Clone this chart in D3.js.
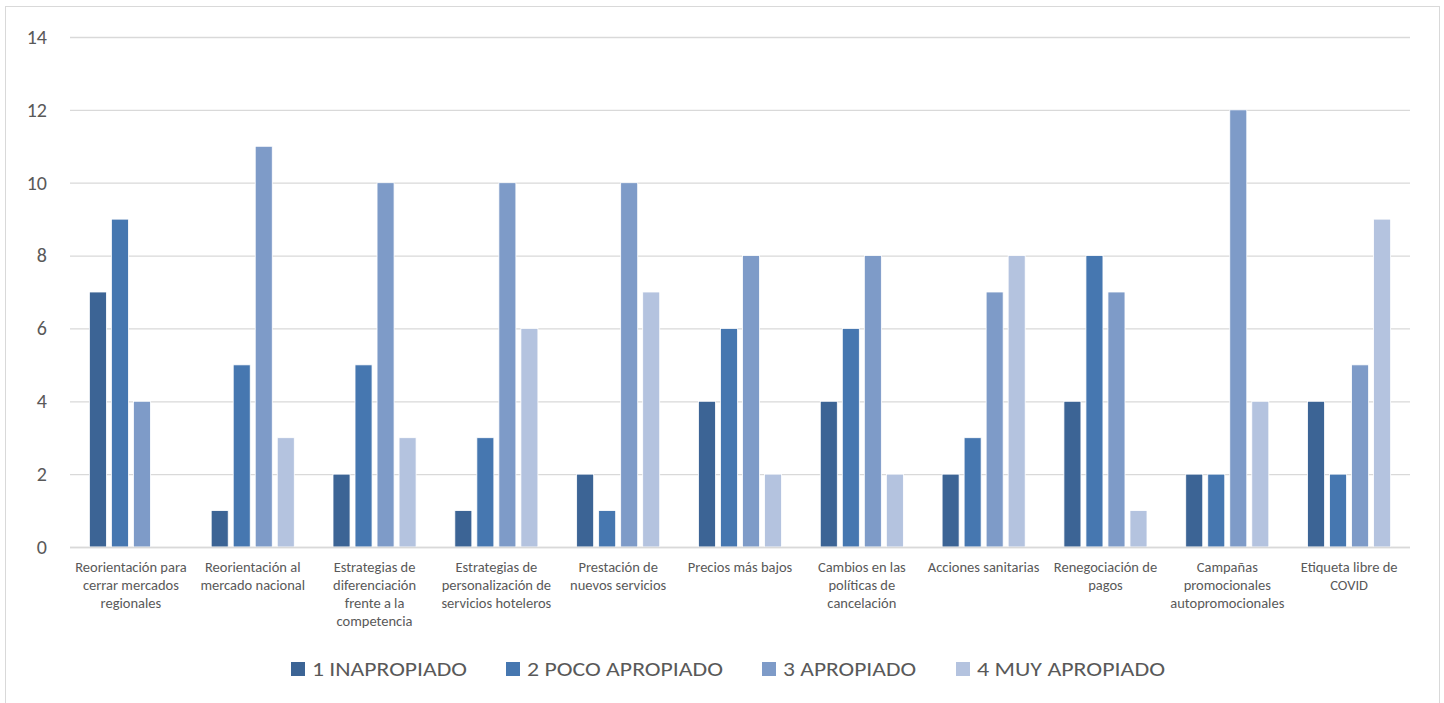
<!DOCTYPE html>
<html>
<head>
<meta charset="utf-8">
<script src="https://cdn.jsdelivr.net/npm/d3@7"></script>
<style>
  html, body { margin: 0; padding: 0; background: #fff; }
  svg { display: block; }
</style>
</head>
<body>
<svg id="chart" width="1444" height="703"></svg>
<script>
// Strategy categories (line breaks mark label wrapping)
const categories = [
  "Reorientación para\ncerrar mercados\nregionales",
  "Reorientación al\nmercado nacional",
  "Estrategias de\ndiferenciación\nfrente a la\ncompetencia",
  "Estrategias de\npersonalización de\nservicios hoteleros",
  "Prestación de\nnuevos servicios",
  "Precios más bajos",
  "Cambios en las\npolíticas de\ncancelación",
  "Acciones sanitarias",
  "Renegociación de\npagos",
  "Campañas\npromocionales\nautopromocionales",
  "Etiqueta libre de\nCOVID"
];

const seriesNames = ["1 INAPROPIADO", "2 POCO APROPIADO", "3 APROPIADO", "4 MUY APROPIADO"];

const inapropiado     = [7, 1, 2, 1, 2, 4, 4, 2, 4, 2, 4];
const pocoApropiado   = [9, 5, 5, 3, 1, 6, 6, 3, 8, 2, 2];
const apropiado       = [4, 11, 10, 10, 10, 8, 8, 7, 7, 12, 5];
const muyApropiado    = [0, 3, 3, 6, 7, 2, 2, 8, 1, 4, 9];

const yTicks = [0, 2, 4, 6, 8, 10, 12, 14];

const seriesValues = [inapropiado, pocoApropiado, apropiado, muyApropiado];
const colors = ["#3C6495", "#4677B0", "#7E9BC8", "#B4C3DF"];

const svg = d3.select("#chart");
const font = "Carlito, Calibri, Lato, sans-serif";
const textColor = "#595959";

// chart frame
svg.append("rect")
  .attr("x", 5.5).attr("y", 6.5)
  .attr("width", 1434).attr("height", 710)
  .attr("fill", "#fff").attr("stroke", "#D9D9D9").attr("stroke-width", 1);

const plot = { left: 70, right: 1410, top: 37, bottom: 547 };

const x0 = d3.scaleBand()
  .domain(d3.range(categories.length))
  .range([plot.left, plot.right])
  .paddingInner(0.318)
  .paddingOuter(0.159);

const x1 = d3.scaleBand()
  .domain(d3.range(seriesNames.length))
  .range([0, x0.bandwidth()])
  .paddingInner(0.227)
  .paddingOuter(0);

const y = d3.scaleLinear().domain([0, 14]).range([plot.bottom, plot.top]);

// gridlines and value labels
const yAxis = d3.axisLeft(y).tickValues(yTicks).tickSize(-(plot.right - plot.left)).tickPadding(23);
const gy = svg.append("g").attr("transform", `translate(${plot.left},0)`).call(yAxis);
gy.select(".domain").remove();
gy.selectAll(".tick line").attr("stroke", "#D9D9D9").attr("stroke-width", 1.3);
gy.selectAll(".tick text")
  .attr("fill", textColor)
  .style("font-family", font)
  .style("font-size", "20px");

// bars
const groups = svg.append("g").selectAll("g")
  .data(categories.map((c, i) => i))
  .join("g")
  .attr("transform", i => `translate(${x0(i)},0)`);

groups.selectAll("rect")
  .data(i => seriesValues.map((vals, s) => ({ s, v: vals[i] })))
  .join("rect")
  .filter(d => d.v > 0)
  .attr("x", d => x1(d.s))
  .attr("y", d => y(d.v))
  .attr("width", x1.bandwidth())
  .attr("height", d => y(0) - y(d.v))
  .attr("fill", d => colors[d.s])
  .attr("stroke", "#ffffff")
  .attr("stroke-width", 0.8);

// baseline
svg.append("line")
  .attr("x1", plot.left).attr("x2", plot.right)
  .attr("y1", y(0) + 0.5).attr("y2", y(0) + 0.5)
  .attr("stroke", "#D9D9D9").attr("stroke-width", 1.5);

// category labels
const xAxis = d3.axisBottom(x0).tickSize(0).tickFormat(i => categories[i]);
const gx = svg.append("g").attr("transform", `translate(0,${plot.bottom})`).call(xAxis);
gx.select(".domain").remove();
gx.selectAll(".tick text")
  .attr("fill", textColor)
  .style("font-family", font)
  .style("font-size", "14.5px")
  .each(function (i) {
    const t = d3.select(this);
    const lines = categories[i].split("\n");
    t.text(null).attr("y", 0).attr("dy", null);
    lines.forEach((ln, k) => {
      t.append("tspan").attr("x", 0).attr("y", 25 + k * 18).text(ln);
    });
  });

// legend
const legendX = [291, 506, 762, 956];
const legendW = [155, 196, 133, 188];
const legend = svg.append("g");
seriesNames.forEach((name, s) => {
  legend.append("rect")
    .attr("x", legendX[s]).attr("y", 662)
    .attr("width", 14).attr("height", 14)
    .attr("fill", colors[s]);
  legend.append("text")
    .attr("x", legendX[s] + 21).attr("y", 676)
    .attr("fill", textColor)
    .attr("textLength", legendW[s])
    .attr("lengthAdjust", "spacingAndGlyphs")
    .style("font-family", font)
    .style("font-size", "21px")
    .text(name);
});
</script>
</body>
</html>
